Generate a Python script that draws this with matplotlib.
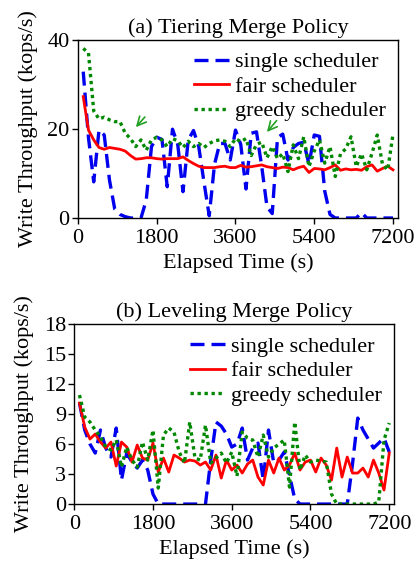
import numpy as np
import matplotlib
matplotlib.use("Agg")
import matplotlib.pyplot as plt

plt.rcParams['font.family'] = ['Liberation Serif', 'DejaVu Serif']
plt.rcParams['font.size'] = 16

# sample times (s), one sample every 120 s
elapsed = np.arange(120, 7201, 120)

# (a) tiering merge policy, kops/s
tier_single = [32.8, 18.0, 8.1, 19.7, 18.6, 8.5, 2.0, 0.8, 0.3, 0.0,
               0.0, 0.0, 4.0, 16.0, 18.1, 17.6, 7.0, 19.9, 16.5, 5.9,
               17.5, 19.6, 16.0, 8.0, 0.5, 12.0, 16.7, 16.7, 13.0, 19.7,
               16.5, 6.5, 19.0, 19.3, 11.5, 2.5, 1.0, 18.0, 18.8, 13.0,
               15.8, 16.7, 17.0, 12.0, 18.6, 18.3, 6.0, 0.8, 0.0, 0.0,
               0.0, 0.0, 0.0, 1.2, 0.0, 0.0, 0.0, 0.0, 0.0, 0.0]
tier_fair = [27.2, 19.7, 17.5, 15.8, 15.4, 15.8, 15.6, 15.4, 15.0, 14.0,
             13.2, 13.3, 13.5, 13.5, 13.3, 13.2, 13.3, 13.3, 13.3, 13.7,
             12.9, 12.2, 11.6, 11.3, 11.3, 11.3, 11.5, 11.6, 11.3, 11.3,
             11.8, 11.4, 11.5, 11.7, 11.9, 11.5, 11.3, 11.1, 11.4, 11.3,
             10.8, 11.3, 11.6, 10.2, 11.1, 11.0, 10.8, 11.3, 11.9, 10.7,
             11.0, 10.8, 10.9, 10.7, 11.5, 11.9, 10.5, 11.1, 11.6, 10.8]
tier_greedy = [38.0, 37.0, 24.0, 22.2, 22.6, 22.0, 21.6, 21.6, 19.0, 17.8,
               16.0, 17.5, 15.2, 17.5, 18.1, 17.5, 16.0, 17.8, 17.3, 15.8,
               17.2, 16.0, 16.7, 15.8, 16.7, 17.3, 17.5, 17.2, 16.0, 17.8,
               17.1, 17.8, 14.0, 16.5, 17.0, 13.5, 16.0, 13.3, 14.4, 10.4,
               16.4, 13.3, 18.2, 11.5, 15.0, 17.5, 12.3, 16.0, 9.3, 14.4,
               15.5, 18.2, 11.5, 14.4, 10.8, 14.5, 18.6, 12.0, 10.8, 18.8]

# (b) leveling merge policy, kops/s
level_single = [10.1, 7.4, 6.0, 5.1, 7.4, 5.6, 4.7, 7.6, 2.4, 5.1,
                4.2, 3.6, 4.4, 3.4, 1.0, 0.0, 0.0, 0.0, 0.0, 0.0,
                0.0, 0.0, 0.0, 0.0, 0.0, 4.4, 8.2, 7.8, 7.0, 5.7,
                6.0, 7.6, 4.4, 5.6, 6.1, 2.4, 7.4, 4.1, 4.4, 5.2,
                2.9, 0.5, 0.0, 0.0, 0.0, 0.0, 0.0, 0.0, 0.0, 0.0,
                0.0, 0.0, 4.0, 8.6, 7.4, 6.5, 5.6, 6.1, 6.6, 5.2]
level_fair = [10.1, 7.7, 6.5, 7.0, 6.2, 5.6, 6.2, 3.8, 6.2, 5.7,
              4.2, 5.9, 4.6, 4.4, 6.1, 3.2, 4.6, 3.2, 4.9, 4.6,
              4.2, 4.4, 4.3, 3.9, 4.2, 3.4, 4.9, 2.6, 4.4, 3.4,
              3.9, 3.1, 4.0, 4.4, 2.7, 1.9, 4.4, 3.1, 4.6, 3.4,
              3.9, 5.1, 3.4, 4.2, 4.4, 3.2, 4.6, 3.9, 2.4, 5.6,
              2.7, 4.7, 3.1, 3.1, 3.6, 2.7, 4.4, 3.1, 1.4, 5.1]
level_greedy = [10.9, 8.7, 8.2, 7.4, 6.7, 5.7, 5.4, 6.4, 3.7, 5.7,
                4.4, 3.7, 6.2, 4.4, 7.4, 1.6, 6.9, 7.6, 7.2, 5.2,
                4.1, 8.2, 4.6, 4.4, 7.9, 4.1, 4.6, 5.1, 4.1, 5.2,
                2.8, 7.2, 6.6, 6.4, 4.7, 6.9, 4.7, 5.6, 6.0, 6.4,
                1.7, 8.2, 3.4, 4.9, 4.2, 4.4, 4.3, 4.2, 1.0, 0.0,
                0.0, 0.0, 0.0, 0.0, 0.0, 0.0, 0.0, 0.2, 6.4, 8.1]

labels = ['single scheduler', 'fair scheduler', 'greedy scheduler']
xticks = [0, 1800, 3600, 5400, 7200]

fig = plt.figure(figsize=(4.17, 5.67), dpi=100)
ax_a = fig.add_axes([0.187, 0.6155, 0.767, 0.3148])
ax_b = fig.add_axes([0.178, 0.111, 0.767, 0.3175])


def draw(ax, single, fair, greedy, title, ymax, yticks):
    ax.plot(elapsed, single, color='#0000ee', lw=2.4, ls=(0, (4.2, 2.1)),
            label=labels[0])
    ax.plot(elapsed, fair, color='#ff0000', lw=2.0, ls='-', label=labels[1])
    ax.plot(elapsed, greedy, color='#008800', lw=2.4, ls=(0, (1, 1.1)),
            label=labels[2])
    ax.set_xlim(0, 7310)
    ax.set_ylim(0, ymax)
    ax.set_xticks(xticks)
    ax.set_yticks(yticks)
    ax.tick_params(direction='out', length=4, width=1)
    ax.tick_params(axis='x', pad=4)
    ax.tick_params(axis='y', pad=2)
    ax.set_xlabel('Elapsed Time (s)', labelpad=4)
    ax.set_ylabel('Write Throughput (kops/s)', labelpad=7)
    ax.set_title(title, fontsize=16, pad=5)
    for s in ax.spines.values():
        s.set_linewidth(1.0)
    ax.legend(loc='upper right', frameon=False, handlelength=1.6,
              handletextpad=0.25, labelspacing=0.18, borderaxespad=0.15,
              fontsize=16)


draw(ax_a, tier_single, tier_fair, tier_greedy,
     '(a) Tiering Merge Policy', 40, [0, 20, 40])
draw(ax_b, level_single, level_fair, level_greedy,
     '(b) Leveling Merge Policy', 18, [0, 3, 6, 9, 12, 15, 18])

# green arrows marking the greedy drops
for tail, head in [((1571, 23.1), (1281, 19.9)), ((4581, 22.3), (4277, 18.8))]:
    ax_a.annotate('', xy=head, xytext=tail,
                  arrowprops=dict(arrowstyle='->', color='#22a022', lw=1.2))

fig.savefig('out.png', dpi=100)
